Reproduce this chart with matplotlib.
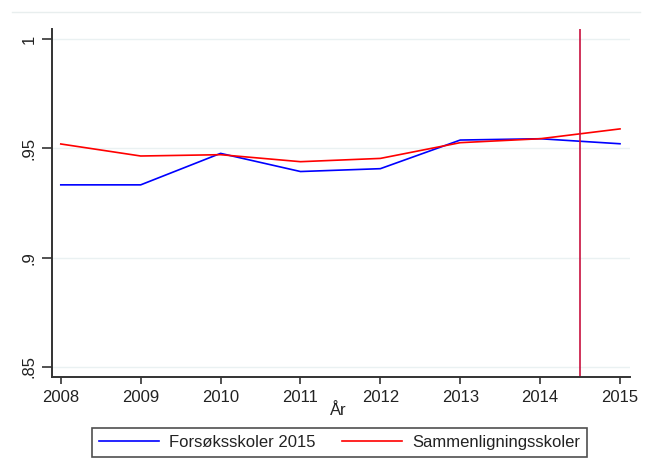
import matplotlib
matplotlib.use("Agg")
import matplotlib.pyplot as plt
from matplotlib.lines import Line2D

years = [2008, 2009, 2010, 2011, 2012, 2013, 2014, 2015]
forsok = [0.9333, 0.9333, 0.9477, 0.9394, 0.9407, 0.9538, 0.9544, 0.9521]
sammen = [0.9520, 0.9465, 0.9471, 0.9439, 0.9454, 0.9526, 0.9544, 0.9589]
yticks = [0.85, 0.9, 0.95, 1.0]
ytick_labels = [".85", ".9", ".95", "1"]
cutoff = 2014.5

plt.rcParams['font.family'] = ['Liberation Sans', 'DejaVu Sans']

W, H = 646, 475
fig = plt.figure(figsize=(W / 100, H / 100), dpi=100)
ax = fig.add_axes([52 / W, 1 - 377 / H, (630 - 52) / W, (377 - 29) / H])

# faint top border line
fig.add_artist(Line2D([12 / W, 640 / W], [1 - 12 / H, 1 - 12 / H],
                      color="#e8eeee", lw=1))

for yv in yticks:
    ax.axhline(yv, color="#eaf1f2", lw=1, zorder=0)

ax.plot(years, forsok, color="#0000ff", lw=1.2, label="Forsøksskoler 2015")
ax.plot(years, sammen, color="#ff0000", lw=1.2, label="Sammenligningsskoler")
ax.axvline(cutoff, color="#c8103e", lw=1.2)

ax.set_xlim(2007.89, 2015.125)
ax.set_ylim(0.8454, 1.0046)
ax.set_xticks(years)
ax.set_xticklabels([str(y) for y in years], fontsize=12, color="#222222")
ax.set_yticks(yticks)
ax.set_yticklabels(ytick_labels, rotation=90, va="center", fontsize=12, color="#222222")
ax.tick_params(axis="x", direction="out", length=5, width=1.2, color="#333333", pad=4)
ax.tick_params(axis="y", direction="out", length=7, width=1.2, color="#333333", pad=4)
for s in ["top", "right"]:
    ax.spines[s].set_visible(False)
for s in ["left", "bottom"]:
    ax.spines[s].set_color("#333333")
    ax.spines[s].set_linewidth(1.4)

fig.text(338 / W, 1 - 415 / H, "År", ha="center", va="baseline", fontsize=12, color="#222222")

leg = fig.legend(loc="upper left", bbox_to_anchor=(92.3 / W, 1 - 428.3 / H), ncol=2,
                 fontsize=12, frameon=True, fancybox=False, handlelength=3.6,
                 columnspacing=1.6, handletextpad=0.6, borderpad=0.4,
                 borderaxespad=0)
leg.get_frame().set_edgecolor("#222222")
leg.get_frame().set_linewidth(1.2)
for t in leg.get_texts():
    t.set_color("#222222")

fig.savefig("out.png", dpi=100)
